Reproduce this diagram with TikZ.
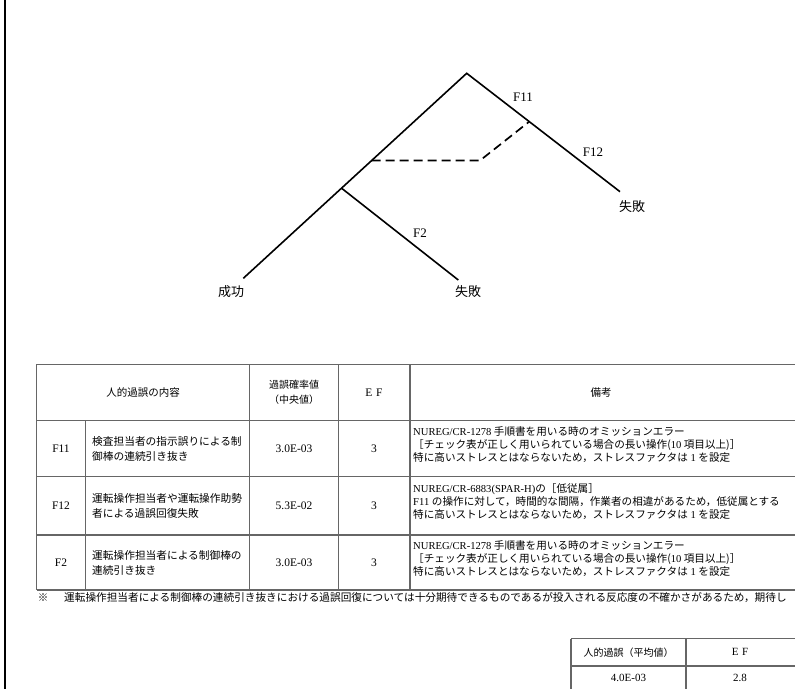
\documentclass[tikz,border=0pt]{standalone}
\usepackage{fontspec}
\setmainfont{Noto Sans CJK JP}
\newfontfamily\latfont{Liberation Serif}
\newcommand\latx[1]{{\latfont #1}}
\begin{document}
\begin{tikzpicture}[x=1pt,y=-1pt,
  tree/.style={line width=1.6pt, black},
  dashlink/.style={line width=1.7pt, dash pattern=on 9pt off 5pt},
  lbl/.style={font=\fontsize{13}{15}\selectfont, inner sep=0pt},
  grid/.style={line width=1.1pt, draw=black!60},
  gridthick/.style={line width=1.8pt, draw=black!60},
  cell/.style={font=\fontsize{10.5}{15}\selectfont, inner sep=0pt, align=center},
  val/.style={font=\fontsize{11.5}{15}\selectfont, inner sep=0pt, align=center},
  small/.style={font=\fontsize{10}{15}\selectfont, inner sep=0pt, align=center},
  content/.style={font=\fontsize{10.7}{15}\selectfont, inner sep=0pt, align=left, anchor=west},
  note/.style={font=\fontsize{10.6}{13}\selectfont, inner sep=0pt, align=left, anchor=west}]
\useasboundingbox (0,0) rectangle (795,689);
\clip (0,0) rectangle (795,689);
\fill[white] (0,0) rectangle (795,689);

% left border line
\coordinate (bt) at (5,0);
\coordinate (bb) at (5,689);
\draw[line width=2.4pt] (bt) -- (bb);

% ---------------- event tree ----------------
\coordinate (top) at (466.7,73.3);
\coordinate (rend) at (620,191.7);
\coordinate (lend) at (243.3,278.3);
\coordinate (dA) at (371.7,160.5);
\coordinate (dB) at (480,160.5);
\coordinate (dC) at (529,121.8);
\coordinate (fb) at (341.7,188.3);
\coordinate (fend) at (458.3,280);

\draw[tree] (lend) -- (top) -- (rend);
\draw[tree] (fb) -- (fend);
\draw[dashlink] (dA) -- (dB) -- (dC);

\node[lbl] (lF11) at (523,97) {\latx{F11}};
\node[lbl] (lF12) at (593,152) {\latx{F12}};
\node[lbl] (lF2) at (420,233) {\latx{F2}};
\node[lbl] (lfail1) at (632,207) {失敗};
\node[lbl] (lsucc) at (231,292) {成功};
\node[lbl] (lfail2) at (468,292) {失敗};

% ---------------- main table ----------------
\draw[grid] (36.7,364.3) -- (795,364.3);
\draw[grid] (36.7,420.7) -- (795,420.7);
\draw[grid] (36.7,476.7) -- (795,476.7);
\draw[gridthick] (36.7,535) -- (795,535);
\draw[grid] (36.7,590) -- (795,590);
\draw[grid] (36.7,364.3) -- (36.7,590);
\draw[gridthick] (85.5,420.7) -- (85.5,590);
\draw[grid] (249.5,364.3) -- (249.5,590);
\draw[grid] (338.5,364.3) -- (338.5,590);
\draw[gridthick] (410,364.3) -- (410,590);

% header
\node[cell] (h1) at (143,392.5) {人的過誤の内容};
\node[small, font=\fontsize{10}{15.5}\selectfont] (h2) at (294,392.5) {過誤確率値\\（中央値）};
\node[val] (h3) at (374,392.5) {\latx{E\,\,F}};
\node[cell] (h4) at (601,392.5) {備考};

% row F11
\node[val] (r1a) at (61,448.7) {\latx{F11}};
\node[content] (r1b) at (92,448.7) {検査担当者の指示誤りによる制\\御棒の連続引き抜き};
\node[val] (r1c) at (294,448.7) {\latx{3.0E-03}};
\node[val] (r1d) at (374,448.7) {\latx{3}};
\node[note] (r1e) at (413,444.5) {\latx{NUREG/CR-1278} 手順書を用いる時のオミッションエラー\\［チェック表が正しく用いられている場合の長い操作(\latx{10} 項目以上)］\\特に高いストレスとはならないため，ストレスファクタは\latx{\ 1\ }を設定};

% row F12
\node[val] (r2a) at (61,505.8) {\latx{F12}};
\node[content] (r2b) at (92,505.8) {運転操作担当者や運転操作助勢\\者による過誤回復失敗};
\node[val] (r2c) at (294,505.8) {\latx{5.3E-02}};
\node[val] (r2d) at (374,505.8) {\latx{3}};
\node[note] (r2e) at (413,502) {\latx{NUREG/CR-6883(SPAR-H)}の［低従属］\\\latx{F11\ }の操作に対して，時間的な間隔，作業者の相違があるため，低従属とする\\特に高いストレスとはならないため，ストレスファクタは\latx{\ 1\ }を設定};

% row F2
\node[val] (r3a) at (61,562.5) {\latx{F2}};
\node[content] (r3b) at (92,562.5) {運転操作担当者による制御棒の\\連続引き抜き};
\node[val] (r3c) at (294,562.5) {\latx{3.0E-03}};
\node[val] (r3d) at (374,562.5) {\latx{3}};
\node[note] (r3e) at (413,558.5) {\latx{NUREG/CR-1278} 手順書を用いる時のオミッションエラー\\［チェック表が正しく用いられている場合の長い操作(\latx{10} 項目以上)］\\特に高いストレスとはならないため，ストレスファクタは\latx{\ 1\ }を設定};

% footnote
\node[cell] (fmark) at (43,597.5) {※};
\node[note, font=\fontsize{10.65}{13}\selectfont] (ftext) at (64,597.5) {運転操作担当者による制御棒の連続引き抜きにおける過誤回復については十分期待できるものであるが投入される反応度の不確かさがあるため，期待し};

% ---------------- small table ----------------
\draw[grid] (571,638.7) -- (795,638.7);
\draw[grid] (571,666) -- (795,666);
\draw[grid] (571,638.7) -- (571,689);
\draw[grid] (686,638.7) -- (686,689);
\node[small] (s1) at (628.5,652.3) {人的過誤（平均値）};
\node[val, font=\fontsize{11}{15}\selectfont] (s2) at (740,652.3) {\latx{E\,\,F}};
\node[val, font=\fontsize{11}{15}\selectfont] (s3) at (628.5,678) {\latx{4.0E-03}};
\node[val, font=\fontsize{11}{15}\selectfont] (s4) at (740,678) {\latx{2.8}};
\end{tikzpicture}
\end{document}
